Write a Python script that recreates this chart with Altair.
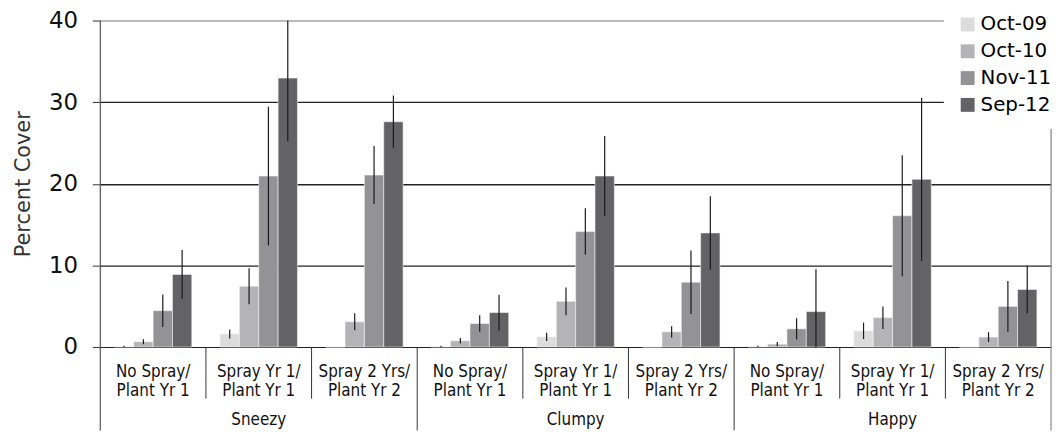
import altair as alt
import pandas as pd

species = ["Sneezy", "Clumpy", "Happy"]
treat_line1 = ["No Spray/", "Spray Yr 1/", "Spray 2 Yrs/"]
treat_line2 = ["Plant Yr 1", "Plant Yr 1", "Plant Yr 2"]
dates = ["Oct-09", "Oct-10", "Nov-11", "Sep-12"]
colors = ["#dcdcdd", "#b4b4b6", "#939396", "#636365"]

# order: Sneezy (NS, S1, S2), Clumpy (NS, S1, S2), Happy (NS, S1, S2)
oct09 = [0.05, 1.6, 0, 0.05, 1.25, 0, 0.05, 1.98, 0]
oct09_err = [0.1, 0.55, 0, 0.1, 0.5, 0, 0.1, 1.0, 0]
oct10 = [0.65, 7.45, 3.1, 0.77, 5.6, 1.86, 0.36, 3.6, 1.22]
oct10_err = [0.3, 2.2, 1.05, 0.35, 1.7, 0.7, 0.25, 1.38, 0.6]
nov11 = [4.45, 20.95, 21.07, 2.88, 14.14, 7.94, 2.23, 16.08, 4.98]
nov11_err = [2.0, 8.5, 3.55, 1.0, 2.85, 3.9, 1.3, 7.4, 3.1]
sep12 = [8.9, 32.95, 27.6, 4.22, 20.95, 13.98, 4.34, 20.55, 7.05]
sep12_err = [3.0, 7.75, 3.2, 2.2, 4.9, 4.5, 5.2, 10.0, 2.9]

values = [oct09, oct10, nov11, sep12]
errors = [oct09_err, oct10_err, nov11_err, sep12_err]

keys = [f"{sp} {i}" for sp in species for i in range(3)]

rows = []
for d, vals, errs in zip(dates, values, errors):
    for k, v, e in zip(keys, vals, errs):
        rows.append({"key": k, "date": d, "value": v, "lo": v - e, "hi": v + e, "err": e})
df = pd.DataFrame(rows)

lab = pd.DataFrame({
    "key": keys,
    "l1": treat_line1 * 3,
    "l2": treat_line2 * 3,
    "species": [sp for sp in species for _ in range(3)],
    "pos": [0, 1, 2] * 3,
})

xscale = alt.Scale(domain=keys, paddingInner=0, paddingOuter=0)
yscale = alt.Scale(domain=[0, 40], nice=False)
off_scale = alt.Scale(domain=dates, paddingInner=0, paddingOuter=0.73)
TXT = "#111111"

xaxis = alt.Axis(labels=False, ticks=False, title=None, domainColor="#222222",
                 domainWidth=1.2, grid=False)
yaxis = alt.Axis(values=[0, 10, 20, 30, 40], title="Percent Cover",
                 titleFont="DejaVu Sans", titleFontSize=21, titleFontWeight="normal",
                 titleColor="#333333", titlePadding=15,
                 labelFont="DejaVu Sans", labelFontSize=23, labelColor=TXT,
                 labelPadding=15, tickSize=8, tickColor="#333333", domain=False,
                 grid=True,
                 gridColor={"condition": {"test": "datum.value === 40", "value": "#8a8a8a"},
                            "value": "#222222"},
                 gridWidth={"condition": {"test": "datum.value === 20", "value": 1.6},
                            "value": 1.1})


def X(**kw):
    return alt.X("key:N", scale=xscale, sort=keys, axis=xaxis, **kw)


bars = alt.Chart(df).mark_bar(stroke="#f4f4f4", strokeWidth=0.6).encode(
    x=X(),
    xOffset=alt.XOffset("date:N", scale=off_scale, sort=dates),
    y=alt.Y("value:Q", scale=yscale, axis=yaxis),
    color=alt.Color("date:N", sort=dates, scale=alt.Scale(domain=dates, range=colors),
                    legend=alt.Legend(orient="none", legendX=850, legendY=-20, title=None,
                                      fillColor="white", padding=14, labelFont="DejaVu Sans",
                                      labelFontSize=20, labelColor="#000000", symbolType="square",
                                      symbolSize=196, symbolStrokeWidth=0, rowPadding=7,
                                      labelOffset=3)),
)

errbars = alt.Chart(df[df["err"] > 0]).mark_rule(color="#1a1a1a", strokeWidth=1.2, clip=True).encode(
    x=X(),
    xOffset=alt.XOffset("date:N", scale=off_scale, sort=dates),
    y=alt.Y("lo:Q", scale=yscale, axis=yaxis),
    y2="hi:Q",
)

tfont = dict(font="DejaVu Sans Condensed", fontSize=17, color=TXT, baseline="alphabetic")
line1 = alt.Chart(lab).mark_text(**tfont).encode(x=X(), text="l1:N", y=alt.value(359))
line2 = alt.Chart(lab).mark_text(**tfont).encode(x=X(), text="l2:N", y=alt.value(378))
sp_text = alt.Chart(lab[lab["pos"] == 1]).mark_text(**tfont).encode(
    x=X(), text="species:N", y=alt.value(408))

sub_sep = alt.Chart(lab[lab["pos"] > 0]).mark_rule(color="#333333", strokeWidth=1).encode(
    x=X(bandPosition=0), y=alt.value(329), y2=alt.value(381))
sp_sep = alt.Chart(lab[lab["pos"] == 0].iloc[1:]).mark_rule(color="#333333", strokeWidth=1).encode(
    x=X(bandPosition=0), y=alt.value(329), y2=alt.value(413))
left_edge = alt.Chart(lab.iloc[:1]).mark_rule(color="#555555", strokeWidth=1.2).encode(
    x=X(bandPosition=0), y=alt.value(0), y2=alt.value(413))
right_edge = alt.Chart(lab.iloc[-1:]).mark_rule(color="#8a8a8a", strokeWidth=1.2).encode(
    x=X(bandPosition=1), y=alt.value(0), y2=alt.value(413))

chart = alt.layer(
    bars, errbars, sub_sep, sp_sep, left_edge, right_edge, line1, line2, sp_text
).properties(
    width=958, height=329,
    autosize=alt.AutoSizeParams(type="none"),
    padding={"left": 93, "top": 11, "right": 4, "bottom": 84},
).configure_view(stroke=None).configure(background="white")

chart.save("out.html", embed_options={"renderer": "svg", "actions": False})
